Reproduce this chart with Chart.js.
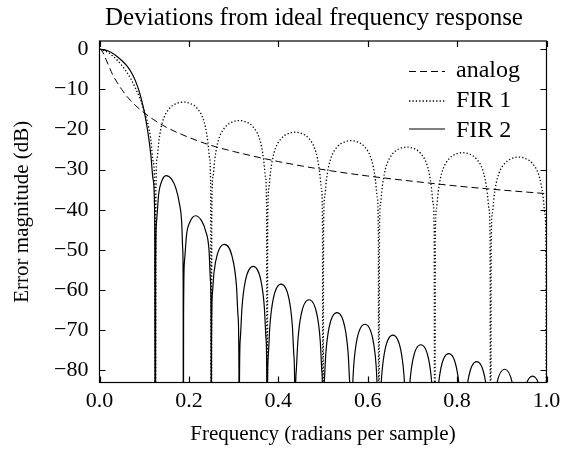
<!DOCTYPE html>
<html>
<head>
<meta charset="utf-8">
<script src="https://cdn.jsdelivr.net/npm/chart.js@4.4.1/dist/chart.umd.min.js"></script>
<style>
  html, body { margin: 0; padding: 0; background: #fff; }
</style>
</head>
<body>
<canvas id="chart" width="579" height="449"></canvas>
<script>
const chartTitle = 'Deviations from ideal frequency response'
const xTitle = 'Frequency (radians per sample)'
const yTitle = 'Error magnitude (dB)'
const seriesNames = ['analog', 'FIR 1', 'FIR 2']

const xTicks = [0, 0.2, 0.4, 0.6, 0.8, 1.0]
const yTicks = [0, -10, -20, -30, -40, -50, -60, -70, -80]

// analog (dashed)
const analogFreq = [0, 0.005, 0.01, 0.015, 0.02, 0.03, 0.04, 0.05, 0.06, 0.07, 0.08, 0.1, 0.12, 0.15,
  0.2, 0.25, 0.3, 0.4, 0.5, 0.6, 0.7, 0.8, 0.9, 1.0]
const analogDb = [0, -0.4, -1.4, -2.7, -4.0, -6.5, -8.4, -10.1, -11.6, -12.9, -14.0, -15.9, -17.5, -19.5,
  -22.0, -24.0, -25.5, -28.0, -30.0, -31.6, -32.9, -34.1, -35.1, -36.0]

// FIR 1 (dotted), -150 marks the nulls far below the axis
const fir1Freq = [
  0, 0.02, 0.04, 0.06, 0.07, 0.08, 0.09, 0.1, 0.105, 0.11, 0.115, 0.12, 0.1235, 0.125,
  0.1263, 0.1288, 0.1325, 0.1375, 0.1438, 0.1563, 0.1713, 0.1875, 0.2038, 0.2188, 0.2313, 0.2375, 0.2425, 0.2463, 0.2488, 0.25,
  0.2513, 0.2538, 0.2575, 0.2625, 0.2688, 0.2813, 0.2963, 0.3125, 0.3288, 0.3438, 0.3563, 0.3625, 0.3675, 0.3713, 0.3738, 0.375,
  0.3763, 0.3788, 0.3825, 0.3875, 0.3938, 0.4063, 0.4213, 0.4375, 0.4538, 0.4688, 0.4813, 0.4875, 0.4925, 0.4963, 0.4988, 0.5,
  0.5013, 0.5038, 0.5075, 0.5125, 0.5188, 0.5313, 0.5463, 0.5625, 0.5788, 0.5938, 0.6063, 0.6125, 0.6175, 0.6213, 0.6238, 0.625,
  0.6263, 0.6288, 0.6325, 0.6375, 0.6438, 0.6563, 0.6713, 0.6875, 0.7038, 0.7188, 0.7313, 0.7375, 0.7425, 0.7463, 0.7488, 0.75,
  0.7513, 0.7538, 0.7575, 0.7625, 0.7688, 0.7813, 0.7963, 0.8125, 0.8288, 0.8438, 0.8563, 0.8625, 0.8675, 0.8713, 0.8738, 0.875,
  0.8763, 0.8788, 0.8825, 0.8875, 0.8938, 0.9063, 0.9213, 0.9375, 0.9538, 0.9688, 0.9813, 0.9875, 0.9925, 0.9963, 0.9988, 1.0
]
const fir1Db = [
  0, -0.9, -2.8, -5.6, -7.4, -9.6, -12.2, -15.3, -17.2, -19.5, -22.6, -28, -36, -150,
  -35.2, -27.2, -23.2, -19.7, -17.2, -14.8, -13.6, -13.2, -13.6, -14.8, -17.2, -19.7, -23.2, -27.2, -35.2, -150,
  -39.8, -31.8, -27.8, -24.3, -21.8, -19.4, -18.2, -17.8, -18.2, -19.4, -21.8, -24.3, -27.8, -31.8, -39.8, -150,
  -42.7, -34.7, -30.7, -27.2, -24.7, -22.3, -21.1, -20.7, -21.1, -22.3, -24.7, -27.2, -30.7, -34.7, -42.7, -150,
  -44.8, -36.8, -32.8, -29.3, -26.8, -24.4, -23.2, -22.8, -23.2, -24.4, -26.8, -29.3, -32.8, -36.8, -44.8, -150,
  -46.4, -38.4, -34.4, -30.9, -28.4, -26, -24.8, -24.4, -24.8, -26, -28.4, -30.9, -34.4, -38.4, -46.4, -150,
  -47.8, -39.8, -35.8, -32.3, -29.8, -27.4, -26.2, -25.8, -26.2, -27.4, -29.8, -32.3, -35.8, -39.8, -47.8, -150,
  -48.9, -40.9, -36.9, -33.4, -30.9, -28.5, -27.3, -26.9, -27.3, -28.5, -30.9, -33.4, -36.9, -40.9, -48.9, -150
]

// FIR 2 (solid)
const fir2Freq = [
  0, 0.02, 0.04, 0.06, 0.07, 0.08, 0.09, 0.1, 0.105, 0.11, 0.115, 0.12, 0.1235, 0.125,
  0.1256, 0.1275, 0.1325, 0.1388, 0.1488, 0.1613, 0.1713, 0.1788, 0.1838, 0.1863, 0.1872, 0.1875,
  0.1881, 0.19, 0.195, 0.2025, 0.215, 0.2275, 0.2375, 0.245, 0.2484, 0.2497, 0.25,
  0.2506, 0.2525, 0.2563, 0.2638, 0.2788, 0.2963, 0.3063, 0.31, 0.3119, 0.3125,
  0.3131, 0.315, 0.3188, 0.3263, 0.3438, 0.3613, 0.3688, 0.3725, 0.3744, 0.375,
  0.3756, 0.3775, 0.3813, 0.3888, 0.4063, 0.4238, 0.4313, 0.435, 0.4369, 0.4375,
  0.4381, 0.44, 0.4438, 0.4513, 0.4688, 0.4863, 0.4938, 0.4975, 0.4994, 0.5,
  0.5006, 0.5025, 0.5063, 0.5138, 0.5313, 0.5488, 0.5563, 0.56, 0.5619, 0.5625,
  0.5631, 0.565, 0.5688, 0.5763, 0.5938, 0.6113, 0.6188, 0.6225, 0.6244, 0.625,
  0.6256, 0.6275, 0.6313, 0.6388, 0.6563, 0.6738, 0.6813, 0.685, 0.6869, 0.6875,
  0.6881, 0.69, 0.6938, 0.7013, 0.7188, 0.7363, 0.7438, 0.7475, 0.7494, 0.75,
  0.7506, 0.7525, 0.7563, 0.7638, 0.7813, 0.7988, 0.8063, 0.81, 0.8119, 0.8125,
  0.8131, 0.815, 0.8188, 0.8263, 0.8438, 0.8613, 0.8688, 0.8725, 0.8744, 0.875,
  0.8756, 0.8775, 0.8813, 0.8888, 0.9063, 0.9238, 0.9313, 0.935, 0.9369, 0.9375,
  0.9381, 0.94, 0.9438, 0.9513, 0.9688, 0.9863, 0.9938, 0.9975, 0.9994, 1.0
]
const fir2Db = [
  0, -0.5, -1.9, -4.0, -5.6, -7.8, -11, -15.5, -18.5, -22, -26.5, -32.5, -42, -150,
  -56, -43, -36, -33, -31.5, -32.4, -34.8, -38.5, -43, -50, -60, -150,
  -66, -53, -46, -43, -41.5, -42.6, -45.3, -50, -58, -70, -150,
  -74, -61, -55.5, -51, -48.6, -51.5, -58.8, -66.6, -78.6, -150,
  -84.1, -72.1, -64.3, -57.7, -54.1, -57.7, -64.3, -72.1, -84.1, -150,
  -88.5, -76.5, -68.7, -62.1, -58.5, -62.1, -68.7, -76.5, -88.5, -150,
  -92.4, -80.4, -72.6, -66, -62.4, -66, -72.6, -80.4, -92.4, -150,
  -95.6, -83.6, -75.8, -69.2, -65.6, -69.2, -75.8, -83.6, -95.6, -150,
  -98.5, -86.5, -78.7, -72.1, -68.5, -72.1, -78.7, -86.5, -98.5, -150,
  -101.2, -89.2, -81.4, -74.8, -71.2, -74.8, -81.4, -89.2, -101.2, -150,
  -103.6, -91.6, -83.8, -77.2, -73.6, -77.2, -83.8, -91.6, -103.6, -150,
  -105.8, -93.8, -86, -79.4, -75.8, -79.4, -86, -93.8, -105.8, -150,
  -107.8, -95.8, -88, -81.4, -77.8, -81.4, -88, -95.8, -107.8, -150,
  -109.7, -97.7, -89.9, -83.3, -79.7, -83.3, -89.9, -97.7, -109.7, -150,
  -111.4, -99.4, -91.6, -85, -81.4, -85, -91.6, -99.4, -111.4, -150
]

const serif = "'Liberation Serif', 'Times New Roman', serif"

function pairs(xs, ys) {
  const n = Math.min(xs.length, ys.length)
  const out = []
  for (let i = 0; i < n; i++) out.push({ x: xs[i], y: ys[i] })
  return out
}

function fmtDb(v) {
  return v < 0 ? '\u2212' + Math.abs(v) : String(v)
}

// frame around the plot with inward ticks on all four sides
const framePlugin = {
  id: 'frame',
  afterDatasetsDraw(chart) {
    const { ctx, chartArea: a, scales: { x, y } } = chart
    ctx.save()
    ctx.strokeStyle = '#000'
    ctx.lineWidth = 1.2
    ctx.strokeRect(a.left, a.top, a.right - a.left, a.bottom - a.top)
    ctx.beginPath()
    x.ticks.forEach(t => {
      const px = Math.round(x.getPixelForValue(t.value)) + 0.5
      ctx.moveTo(px, a.bottom); ctx.lineTo(px, a.bottom - 6)
      ctx.moveTo(px, a.top); ctx.lineTo(px, a.top + 6)
    })
    y.ticks.forEach(t => {
      const py = Math.round(y.getPixelForValue(t.value)) + 0.5
      ctx.moveTo(a.left, py); ctx.lineTo(a.left + 6, py)
      ctx.moveTo(a.right, py); ctx.lineTo(a.right - 6, py)
    })
    ctx.stroke()
    ctx.restore()
  }
}

// legend inside the top right corner of the plot
const legendPlugin = {
  id: 'insideLegend',
  afterDraw(chart) {
    const { ctx } = chart
    const rows = [71.5, 101, 129]
    const bases = [77, 107, 136.5]
    ctx.save()
    chart.data.datasets.forEach((ds, i) => {
      ctx.beginPath()
      ctx.strokeStyle = '#000'
      ctx.lineWidth = ds.borderWidth
      ctx.setLineDash(ds.borderDash || [])
      ctx.moveTo(409, rows[i])
      ctx.lineTo(445, rows[i])
      ctx.stroke()
      ctx.setLineDash([])
      ctx.fillStyle = '#000'
      ctx.font = '24px ' + serif
      ctx.textAlign = 'left'
      ctx.textBaseline = 'alphabetic'
      ctx.fillText(ds.label, 456, bases[i])
    })
    ctx.restore()
  }
}

const titlePlugin = {
  id: 'topTitle',
  afterDraw(chart) {
    const { ctx } = chart
    ctx.save()
    ctx.fillStyle = '#000'
    ctx.font = '25px ' + serif
    ctx.textAlign = 'center'
    ctx.textBaseline = 'alphabetic'
    ctx.fillText(chartTitle, 314, 25)
    ctx.restore()
  }
}

new Chart(document.getElementById('chart'), {
  type: 'line',
  data: {
    datasets: [
      {
        label: seriesNames[0],
        data: pairs(analogFreq, analogDb),
        borderColor: '#000',
        borderWidth: 1,
        borderDash: [7, 4],
        pointRadius: 0,
        cubicInterpolationMode: 'monotone',
        fill: false
      },
      {
        label: seriesNames[1],
        data: pairs(fir1Freq, fir1Db),
        borderColor: '#000',
        borderWidth: 1.3,
        borderDash: [1.3, 2.1],
        pointRadius: 0,
        cubicInterpolationMode: 'monotone',
        fill: false
      },
      {
        label: seriesNames[2],
        data: pairs(fir2Freq, fir2Db),
        borderColor: '#000',
        borderWidth: 1.2,
        pointRadius: 0,
        cubicInterpolationMode: 'monotone',
        fill: false
      }
    ]
  },
  options: {
    responsive: false,
    animation: false,
    layout: {
      padding: { top: 41, right: 32.5, left: 0, bottom: 0 }
    },
    plugins: {
      legend: { display: false },
      tooltip: { enabled: false },
      title: { display: false }
    },
    scales: {
      x: {
        type: 'linear',
        min: 0,
        max: 1,
        afterBuildTicks: s => { s.ticks = xTicks.map(v => ({ value: v })) },
        afterFit: s => { s.height = 66.5 },
        grid: { display: false, drawTicks: false },
        border: { display: false },
        ticks: {
          padding: 6,
          color: '#000',
          font: { family: serif, size: 22 },
          maxRotation: 0,
          autoSkip: false,
          callback: v => v.toFixed(1)
        },
        title: {
          display: true,
          text: xTitle,
          color: '#000',
          font: { family: serif, size: 21 },
          padding: { top: 0, bottom: 2 }
        }
      },
      y: {
        type: 'linear',
        min: -83,
        max: 2,
        afterBuildTicks: s => { s.ticks = yTicks.map(v => ({ value: v })) },
        afterFit: s => { s.width = 99.5 },
        grid: { display: false, drawTicks: false },
        border: { display: false },
        ticks: {
          padding: 11,
          color: '#000',
          font: { family: serif, size: 22 },
          autoSkip: false,
          callback: v => fmtDb(v)
        },
        title: {
          display: true,
          text: yTitle,
          color: '#000',
          font: { family: serif, size: 21 },
          padding: { top: 10, bottom: 0 }
        }
      }
    }
  },
  plugins: [framePlugin, legendPlugin, titlePlugin]
})
</script>
</body>
</html>
